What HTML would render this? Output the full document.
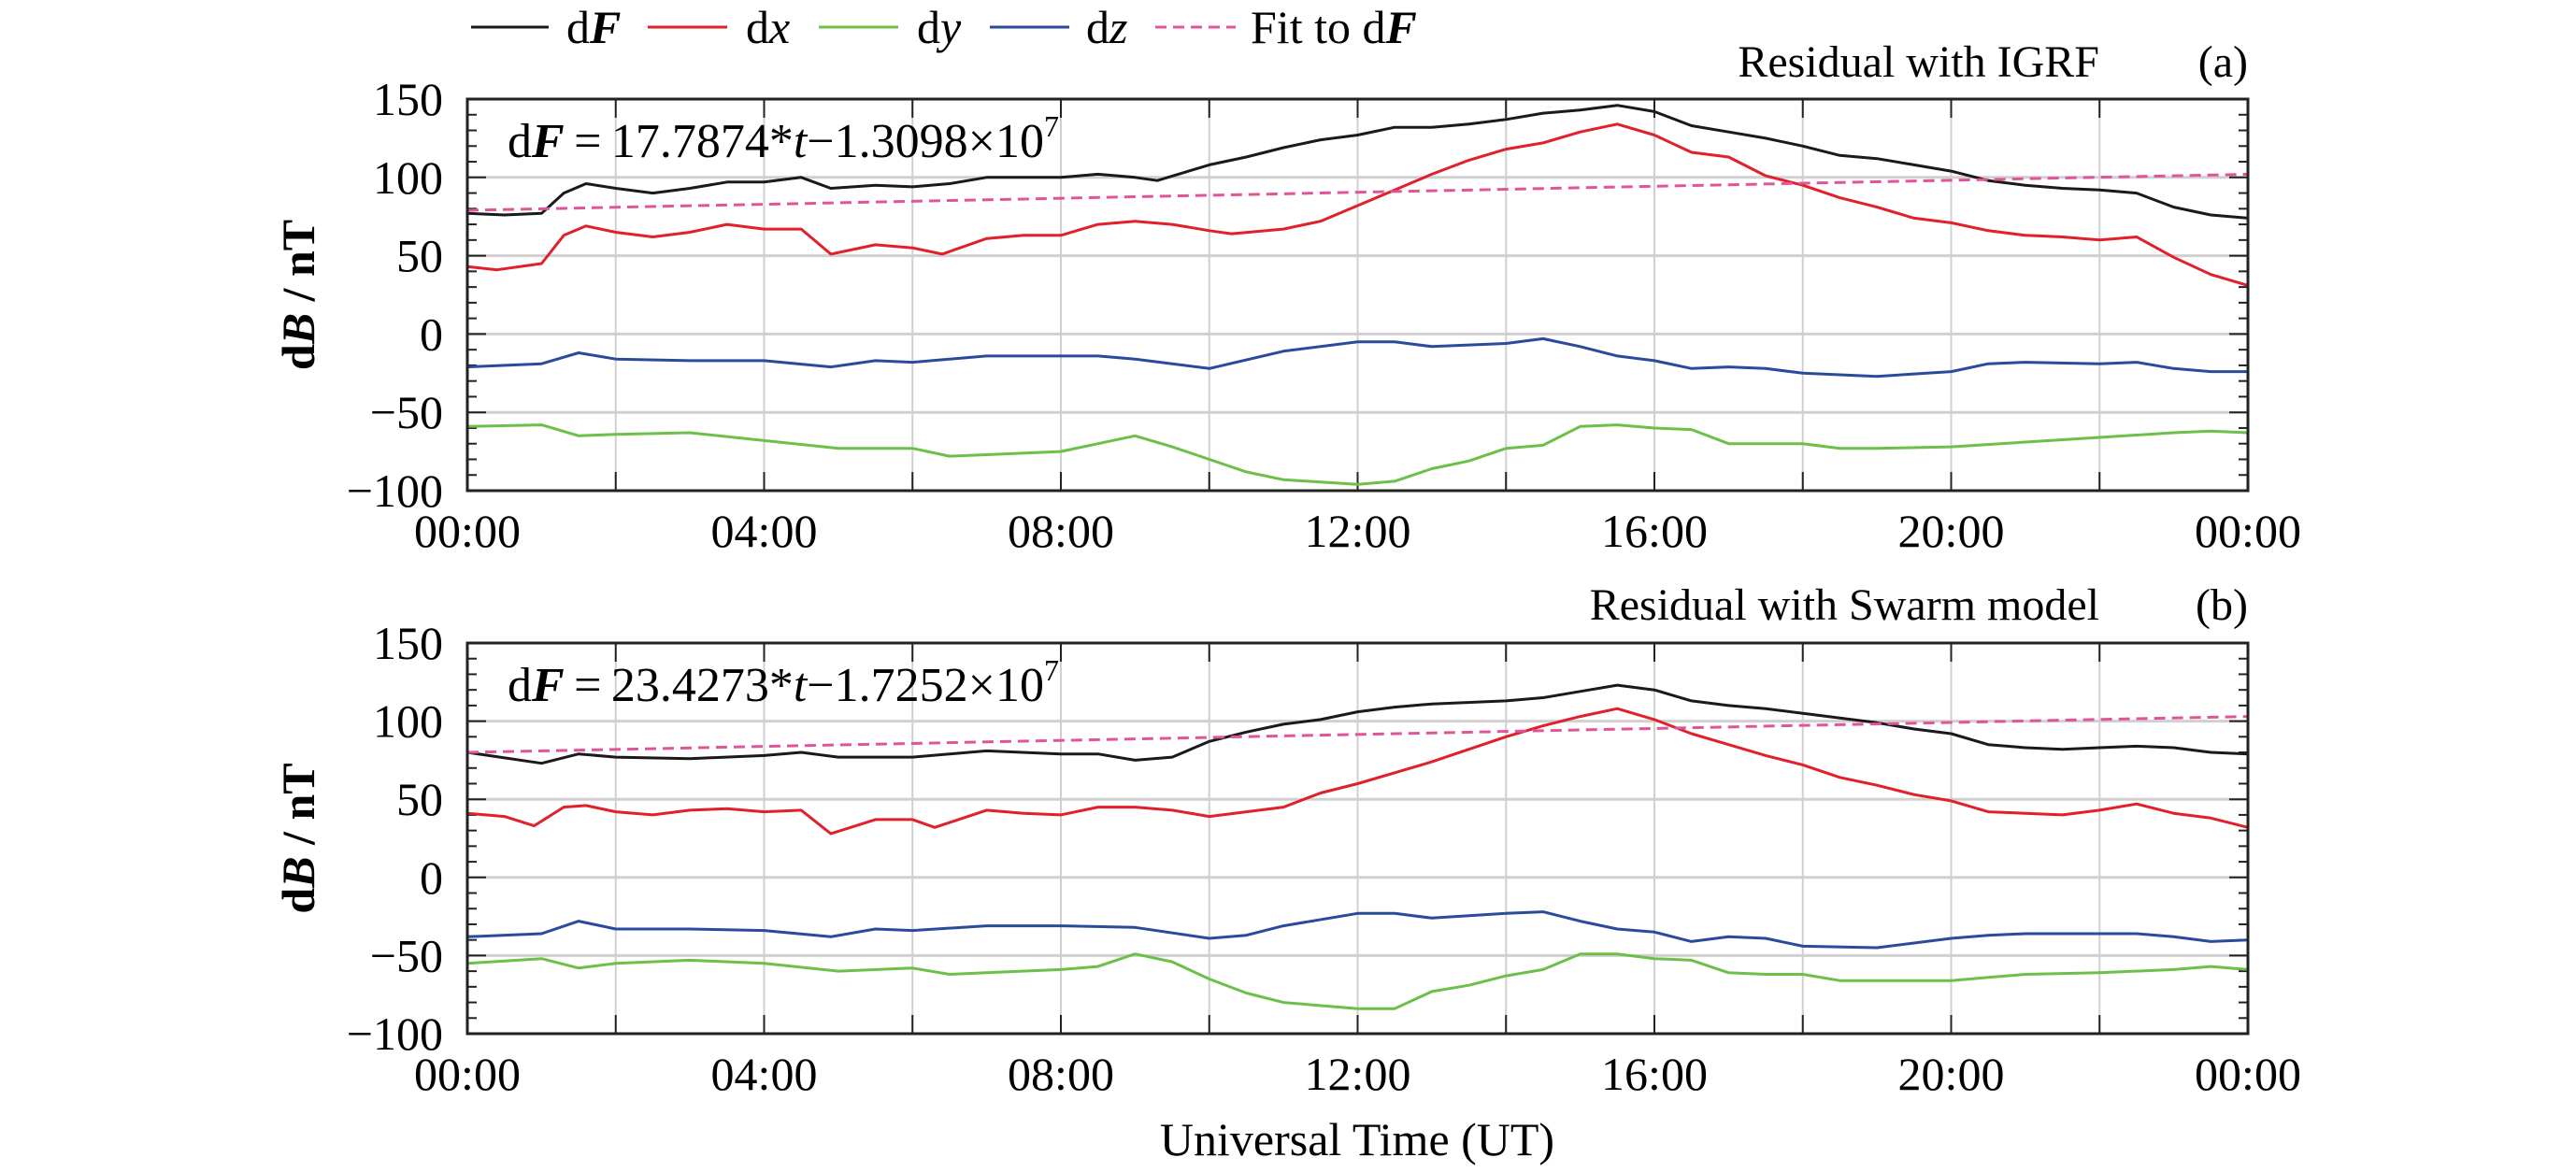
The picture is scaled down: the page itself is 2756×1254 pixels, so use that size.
<!DOCTYPE html>
<html><head><meta charset="utf-8">
<style>
html,body{margin:0;padding:0;background:#fff;}
svg{display:block;font-family:"Liberation Serif",serif;}
</style></head>
<body>
<svg id="chart" width="2756" height="1254" viewBox="0 0 2756 1254" xmlns="http://www.w3.org/2000/svg">
  <g id="legend" font-size="50">
    <g><line x1="504" y1="29" x2="587" y2="29" stroke="#1a1a1a" stroke-width="3"/><text x="606" y="46">d<tspan font-weight="bold" font-style="italic">F</tspan></text></g>
    <g><line x1="693" y1="29" x2="778" y2="29" stroke="#e0202a" stroke-width="3"/><text x="798" y="46">d<tspan font-style="italic">x</tspan></text></g>
    <g><line x1="876" y1="29" x2="961" y2="29" stroke="#6cc04a" stroke-width="3"/><text x="981" y="46">d<tspan font-style="italic">y</tspan></text></g>
    <g><line x1="1059" y1="29" x2="1144" y2="29" stroke="#2a4a9c" stroke-width="3"/><text x="1162" y="46">d<tspan font-style="italic">z</tspan></text></g>
    <g><line x1="1236" y1="29" x2="1322" y2="29" stroke="#e0559a" stroke-width="3" stroke-dasharray="12,7"/><text x="1338" y="46">Fit to d<tspan font-weight="bold" font-style="italic">F</tspan></text></g>
  </g>
  <text x="1452" y="1236" font-size="50" text-anchor="middle">Universal Time (UT)</text>
</svg>
<script>
// ---- data (hours of day, nT) ----
const xTickLabels = ["00:00","04:00","08:00","12:00","16:00","20:00","00:00"];
const yTickLabels = [150,100,50,0,-50,-100];

const aFHours = [0,0.5,1,1.3,1.6,2,2.5,3,3.5,4,4.5,4.9,5.5,6,6.5,7,7.5,8,8.5,9,9.3,10,10.5,11,11.5,12,12.5,13,13.5,14,14.5,15,15.5,16,16.5,17,17.5,18,18.5,19,19.5,20,20.5,21,21.5,22,22.5,23,23.5,24];
const aFVals  = [77,76,77,90,96,93,90,93,97,97,100,93,95,94,96,100,100,100,102,100,98,108,113,119,124,127,132,132,134,137,141,143,146,142,133,129,125,120,114,112,108,104,98,95,93,92,90,81,76,74];
const aXHours = [0,0.4,1,1.3,1.6,2,2.5,3,3.5,4,4.5,4.9,5.5,6,6.4,7,7.5,8,8.5,9,9.5,10,10.3,11,11.5,12,12.5,13,13.5,14,14.5,15,15.5,16,16.5,17,17.5,18,18.5,19,19.5,20,20.5,21,21.5,22,22.5,23,23.5,24];
const aXVals  = [43,41,45,63,69,65,62,65,70,67,67,51,57,55,51,61,63,63,70,72,70,66,64,67,72,82,92,102,111,118,122,129,134,127,116,113,101,95,87,81,74,71,66,63,62,60,62,49,38,31];
const aZHours = [0,1,1.5,2,3,4,4.9,5.5,6,7,8,8.5,9,10,11,12,12.5,13,14,14.5,15,15.5,16,16.5,17,17.5,18,19,20,20.5,21,22,22.5,23,23.5,24];
const aZVals  = [-21,-19,-12,-16,-17,-17,-21,-17,-18,-14,-14,-14,-16,-22,-11,-5,-5,-8,-6,-3,-8,-14,-17,-22,-21,-22,-25,-27,-24,-19,-18,-19,-18,-22,-24,-24];
const aYHours = [0,1,1.5,2,3,4,5,6,6.5,7,8,8.5,9,9.5,10,10.5,11,12,12.5,13,13.5,14,14.5,15,15.5,16,16.5,17,17.5,18,18.5,19,20,21,22,23,23.5,24];
const aYVals  = [-59,-58,-65,-64,-63,-68,-73,-73,-78,-77,-75,-70,-65,-72,-80,-88,-93,-96,-94,-86,-81,-73,-71,-59,-58,-60,-61,-70,-70,-70,-73,-73,-72,-69,-66,-63,-62,-63];
const aFitHours = [0,24];
const aFitVals  = [79,102];

const bFHours = [0,1,1.5,2,3,4,4.5,5,6,7,8,8.5,9,9.5,10,10.5,11,11.5,12,12.5,13,14,14.5,15,15.5,16,16.5,17,17.5,18,18.5,19,19.5,20,20.5,21,21.5,22,22.5,23,23.5,24];
const bFVals  = [80,73,79,77,76,78,80,77,77,81,79,79,75,77,87,93,98,101,106,109,111,113,115,119,123,120,113,110,108,105,102,99,95,92,85,83,82,83,84,83,80,79];
const bXHours = [0,0.5,0.9,1.3,1.6,2,2.5,3,3.5,4,4.5,4.9,5.5,6,6.3,7,7.5,8,8.5,9,9.5,10,10.5,11,11.5,12,12.5,13,14,14.5,15,15.5,16,16.5,17,17.5,18,18.5,19,19.5,20,20.5,21,21.5,22,22.5,23,23.5,24];
const bXVals  = [41,39,33,45,46,42,40,43,44,42,43,28,37,37,32,43,41,40,45,45,43,39,42,45,54,60,67,74,90,97,103,108,101,92,85,78,72,64,59,53,49,42,41,40,43,47,41,38,32];
const bZHours = [0,1,1.5,2,3,4,4.9,5.5,6,7,8,9,10,10.5,11,12,12.5,13,14,14.5,15,15.5,16,16.5,17,17.5,18,19,20,20.5,21,22,22.5,23,23.5,24];
const bZVals  = [-38,-36,-28,-33,-33,-34,-38,-33,-34,-31,-31,-32,-39,-37,-31,-23,-23,-26,-23,-22,-28,-33,-35,-41,-38,-39,-44,-45,-39,-37,-36,-36,-36,-38,-41,-40];
const bYHours = [0,1,1.5,2,3,4,5,6,6.5,7,8,8.5,9,9.5,10,10.5,11,12,12.5,13,13.5,14,14.5,15,15.5,16,16.5,17,17.5,18,18.5,19,20,20.5,21,22,23,23.5,24];
const bYVals  = [-55,-52,-58,-55,-53,-55,-60,-58,-62,-61,-59,-57,-49,-54,-65,-74,-80,-84,-84,-73,-69,-63,-59,-49,-49,-52,-53,-61,-62,-62,-66,-66,-66,-64,-62,-61,-59,-57,-59];
const bFitHours = [0,24];
const bFitVals  = [80,103];

const NS = "http://www.w3.org/2000/svg";
const svg = document.getElementById('chart');
function mk(tag, attrs, parent){
  const e = document.createElementNS(NS, tag);
  for (const k in attrs) e.setAttribute(k, attrs[k]);
  (parent||svg).appendChild(e);
  return e;
}
const X0 = 500, X1 = 2405;
function xScale(h){ return X0 + (X1 - X0) * h / 24; }

function panel(top, bottom, id, title, label, eqCoef, eqConst, eqY, titleY, series, fit){
  const yScale = v => bottom - (v + 100) / 250 * (bottom - top);
  const g = mk('g', {});
  
  
  // grid
  for (let h = 2; h < 24; h += 2){
    const l = mk('line', {x1:xScale(h), x2:xScale(h), y1:top, y2:bottom, stroke:'#d0d0d0', 'stroke-width':2}, g);
    
    
  }
  [100,50,0,-50].forEach(v => {
    const l = mk('line', {x1:X0, x2:X1, y1:yScale(v), y2:yScale(v), stroke:'#d0d0d0', 'stroke-width':3}, g);
    
    
  });
  // ticks
  for (let h = 2; h < 24; h += 2){
    mk('line', {x1:xScale(h), x2:xScale(h), y1:top, y2:top+20, stroke:'#222', 'stroke-width':2}, g);
    mk('line', {x1:xScale(h), x2:xScale(h), y1:bottom, y2:bottom-20, stroke:'#222', 'stroke-width':2}, g);
  }
  for (let v = -90; v < 150; v += 10){
    const len = (v % 50 === 0) ? 20 : 10;
    mk('line', {x1:X0, x2:X0+len, y1:yScale(v), y2:yScale(v), stroke:'#222', 'stroke-width':2}, g);
    mk('line', {x1:X1, x2:X1-len, y1:yScale(v), y2:yScale(v), stroke:'#222', 'stroke-width':2}, g);
  }
  // series
  series.forEach(s => {
    let d = '';
    s.hours.forEach((h,i) => { d += (i ? 'L' : 'M') + xScale(h).toFixed(1) + ',' + yScale(s.vals[i]).toFixed(1); });
    const p = mk('path', {d:d, fill:'none', stroke:s.color, 'stroke-width':3, 'stroke-linejoin':'round'}, g);
    
    
  });
  let fd = '';
  fit.hours.forEach((h,i) => { fd += (i ? 'L' : 'M') + xScale(h) + ',' + yScale(fit.vals[i]); });
  const fp = mk('path', {d:fd, fill:'none', stroke:'#e0559a', 'stroke-width':3, 'stroke-dasharray':'12,7'}, g);
  
  
  // frame
  const fr = mk('rect', {x:X0, y:top, width:X1-X0, height:bottom-top, fill:'none', stroke:'#222', 'stroke-width':3}, g);
  
  
  // tick labels
  yTickLabels.forEach(v => {
    const t = mk('text', {x:474, y:yScale(v)+17, 'font-size':50, 'text-anchor':'end'}, g);
    t.textContent = v < 0 ? '\u2212' + Math.abs(v) : String(v);
    
    
  });
  xTickLabels.forEach((s,i) => {
    const t = mk('text', {x:xScale(i*4), y:bottom+60, 'font-size':50, 'text-anchor':'middle'}, g);
    t.textContent = s;
    
    
  });
  // y title
  const yt = mk('text', {x:0, y:0, 'font-size':50, 'text-anchor':'middle', 'font-weight':'bold', transform:'translate(336,' + ((top+bottom)/2) + ') rotate(-90)'}, g);
  yt.innerHTML = 'd<tspan font-style="italic">B</tspan> / nT';
  
  
  // title & label
  const tt = mk('text', {x:2246, y:titleY, 'font-size':48, 'text-anchor':'end'}, g);
  tt.textContent = title;
  
  
  const lb = mk('text', {x:2405, y:titleY, 'font-size':48, 'text-anchor':'end'}, g);
  lb.textContent = label;
  
  
  // equation
  const eq = mk('text', {x:543, y:eqY, 'font-size':52}, g);
  eq.innerHTML = 'd<tspan font-weight="bold" font-style="italic">F</tspan>\u2009=\u2009' + eqCoef + '*<tspan font-style="italic">t</tspan>\u2212' + eqConst + '\u00d710<tspan font-size="32" dy="-22">7</tspan>';
  
  
}

panel(106, 525, 'a', 'Residual with IGRF', '(a)', '17.7874', '1.3098', 168, 82, [
  {name:'dF', color:'#1a1a1a', hours:aFHours, vals:aFVals},
  {name:'dx', color:'#e0202a', hours:aXHours, vals:aXVals},
  {name:'dz', color:'#2a4a9c', hours:aZHours, vals:aZVals},
  {name:'dy', color:'#6cc04a', hours:aYHours, vals:aYVals}
], {hours:aFitHours, vals:aFitVals});

panel(688, 1106, 'b', 'Residual with Swarm model', '(b)', '23.4273', '1.7252', 750, 663, [
  {name:'dF', color:'#1a1a1a', hours:bFHours, vals:bFVals},
  {name:'dx', color:'#e0202a', hours:bXHours, vals:bXVals},
  {name:'dz', color:'#2a4a9c', hours:bZHours, vals:bZVals},
  {name:'dy', color:'#6cc04a', hours:bYHours, vals:bYVals}
], {hours:bFitHours, vals:bFitVals});
</script>
</body></html>
